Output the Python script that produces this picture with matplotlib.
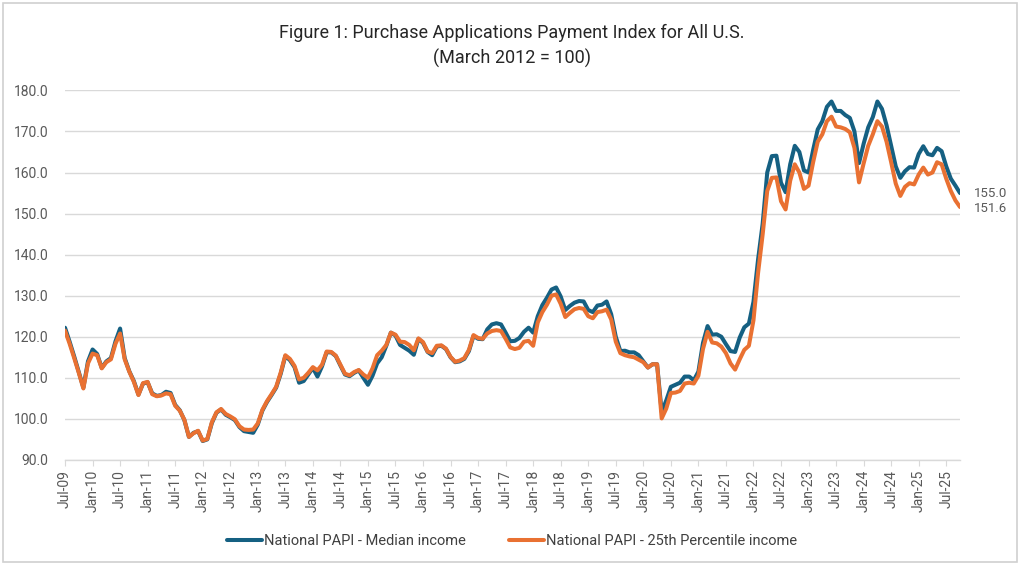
#Importing modules
import pandas as pd
import matplotlib
matplotlib.use("Agg")
import matplotlib.pyplot as plt
from matplotlib.patches import Rectangle


#Chart data (monthly, Jul-09 to Oct-25)
start_month = "2009-07-01"

median_income = [
    122.2, 118.8, 115.2, 111.4, 107.6, 114.0, 116.9, 115.8, 112.4, 114.0,
    114.8, 118.9, 122.0, 114.8, 111.6, 109.2, 105.9, 108.6, 108.9, 106.2,
    105.6, 105.8, 106.6, 106.3, 103.4, 102.1, 99.7, 95.6, 96.6, 97.0,
    94.6, 95.0, 99.0, 101.5, 102.3, 101.0, 100.4, 99.7, 98.0, 97.0,
    96.8, 96.6, 98.6, 102.0, 104.1, 105.8, 107.6, 111.0, 115.3, 114.3,
    112.6, 108.8, 109.2, 110.8, 112.4, 110.3, 112.8, 116.2, 116.2, 115.3,
    113.0, 110.8, 110.4, 111.2, 111.8, 110.0, 108.3, 110.5, 113.5, 115.0,
    117.8, 121.0, 120.3, 118.0, 117.3, 116.6, 115.6, 119.5, 118.5, 116.3,
    115.5, 117.6, 117.8, 117.0, 115.0, 113.8, 114.0, 114.6, 116.5, 120.2,
    119.5, 119.4, 121.8, 123.0, 123.3, 123.0, 121.0, 118.9, 119.0, 119.7,
    121.2, 122.2, 121.0, 125.0, 127.7, 129.5, 131.5, 132.0, 129.8, 126.5,
    127.5, 128.3, 128.7, 128.6, 126.5, 126.0, 127.6, 127.8, 128.6, 125.5,
    120.0, 116.5, 116.6, 116.2, 116.2, 115.5, 114.0, 112.5, 113.3, 113.3,
    101.7, 104.5, 107.8, 108.3, 108.8, 110.3, 110.3, 109.4, 111.5, 118.5,
    122.6, 120.5, 120.6, 120.0, 118.2, 116.5, 116.3, 119.8, 122.3, 123.2,
    128.5, 138.8, 147.5, 160.0, 164.0, 164.1, 157.5, 155.2, 162.0, 166.5,
    165.0, 160.5, 160.0, 165.5, 170.5, 172.5, 176.0, 177.3, 175.0, 175.0,
    174.0, 173.3, 170.0, 162.3, 167.0, 171.0, 173.5, 177.3, 175.5, 171.5,
    166.5, 161.5, 158.7, 160.3, 161.3, 161.2, 164.5, 166.4, 164.5, 164.2,
    166.0, 165.2, 161.5, 158.5, 156.8, 155.0,
]

pct25_income = [
    121.5, 118.3, 114.8, 111.2, 107.4, 113.5, 115.9, 115.5, 112.3, 113.8,
    114.5, 118.3, 120.8, 114.5, 111.5, 109.0, 105.8, 108.7, 109.0, 106.0,
    105.5, 105.7, 106.2, 106.0, 103.2, 102.0, 99.8, 95.6, 96.5, 97.1,
    94.7, 95.1, 99.2, 101.6, 102.4, 101.2, 100.6, 99.9, 98.2, 97.4,
    97.3, 97.4, 98.9, 102.2, 104.3, 106.0, 107.8, 111.3, 115.5, 114.6,
    112.9, 109.6, 110.0, 111.2, 112.6, 111.8, 113.2, 116.4, 116.3, 115.4,
    113.2, 111.0, 110.6, 111.4, 111.9, 110.8, 110.0, 112.3, 115.5, 116.6,
    118.0, 121.0, 120.5, 118.8, 118.7, 118.0, 116.7, 119.6, 118.7, 116.4,
    116.0, 117.8, 117.9, 117.1, 115.1, 113.9, 114.2, 114.8, 116.8, 120.4,
    119.7, 119.5, 120.8, 121.4, 121.6, 121.4, 119.5, 117.4, 117.0, 117.3,
    118.8, 119.0, 117.8, 123.5, 126.0, 127.8, 130.0, 130.3, 128.0, 124.8,
    125.8, 126.7, 127.0, 126.8, 125.0, 124.5, 126.0, 126.2, 126.6, 124.2,
    118.8, 116.0, 115.5, 115.2, 115.0, 114.4, 113.8, 112.5, 113.3, 113.3,
    100.1, 102.5, 106.3, 106.4, 106.8, 108.6, 108.8, 108.6, 110.5, 117.0,
    121.2, 118.6, 118.4, 117.6, 116.0, 113.5, 112.0, 114.5, 116.8, 117.8,
    124.0, 135.5, 144.9, 155.5, 158.7, 158.8, 153.0, 151.0, 158.0, 162.0,
    160.0, 156.0, 156.8, 162.5, 167.5, 169.3, 172.5, 173.6, 171.2, 171.0,
    170.6, 169.8, 166.0, 157.6, 162.2, 166.5, 169.3, 172.5, 171.2, 167.5,
    162.5, 157.3, 154.3, 156.5, 157.4, 157.1, 159.5, 161.2, 159.5, 160.0,
    162.5, 162.0, 158.5, 155.5, 153.2, 151.6,
]

y_ticks = [90, 100, 110, 120, 130, 140, 150, 160, 170, 180]

series_names = ["National PAPI - Median income",
                "National PAPI - 25th Percentile income"]


#Month labels for the category axis
months = pd.date_range(start_month, periods=len(median_income), freq="MS")
month_labels = [m.strftime("%b-%y") for m in months]
x = list(range(len(median_income)))


#Colours and fonts (Excel 2023 theme look)
blue = "#156082"
orange = "#E97132"
grey_text = "#595959"
grid_grey = "#d9d9d9"
plt.rcParams["font.family"] = ["Roboto", "DejaVu Sans"]


#Figure and axes placed like the reference
fig = plt.figure(figsize=(10.24, 5.65), dpi=100)
ax = fig.add_axes([0.0635, 0.186, 0.874, 0.654])

ax.plot(x, median_income, color=blue, lw=2.9, label=series_names[0],
        solid_joinstyle="round", solid_capstyle="round", zorder=3)
ax.plot(x, pct25_income, color=orange, lw=2.9, label=series_names[1],
        solid_joinstyle="round", solid_capstyle="round", zorder=4)

#End labels
ax.annotate(f"{median_income[-1]:.1f}", (x[-1], median_income[-1]),
            xytext=(10, 0), textcoords="offset points", va="center",
            fontsize=9.5, color=grey_text, annotation_clip=False)
ax.annotate(f"{pct25_income[-1]:.1f}", (x[-1], pct25_income[-1]),
            xytext=(10, -1), textcoords="offset points", va="center",
            fontsize=9.5, color=grey_text, annotation_clip=False)


#Axes styling
ax.set_xlim(0, len(x) - 1)
ax.set_ylim(90, 180)
ax.set_yticks(y_ticks)
ax.set_yticklabels([f"{v:.1f}" for v in y_ticks])
ax.set_xticks(x[::6])
ax.set_xticklabels(month_labels[::6], rotation=90)
ax.grid(axis="y", color=grid_grey, lw=1)
ax.set_axisbelow(True)
for s in ["top", "right", "left"]:
    ax.spines[s].set_visible(False)
ax.spines["bottom"].set_color(grid_grey)
ax.spines["bottom"].set_linewidth(1)
ax.tick_params(axis="y", length=0, pad=12, labelsize=10, labelcolor=grey_text)
ax.tick_params(axis="x", length=4, color=grid_grey, pad=3, labelsize=10,
               labelcolor=grey_text)


#Title
fig.text(0.5, 0.942, "Figure 1: Purchase Applications Payment Index for All U.S.",
         ha="center", va="center", fontsize=13, color="#262626")
fig.text(0.5, 0.897, "(March 2012 = 100)", ha="center", va="center",
         fontsize=13, color="#262626")


#Legend at the bottom
leg = fig.legend(loc="center", bbox_to_anchor=(0.5, 0.043), ncol=2,
                 frameon=False, fontsize=10.5, handlelength=2.4,
                 handletextpad=0.1, columnspacing=3.0)
for t in leg.get_texts():
    t.set_color("#404040")


#Light border round the chart
fig.patches.append(Rectangle((0.003, 0.005), 0.99, 0.99, transform=fig.transFigure,
                             fill=False, ec="#d0d0d0", lw=1.2))

plt.savefig("out.png", dpi=100)
